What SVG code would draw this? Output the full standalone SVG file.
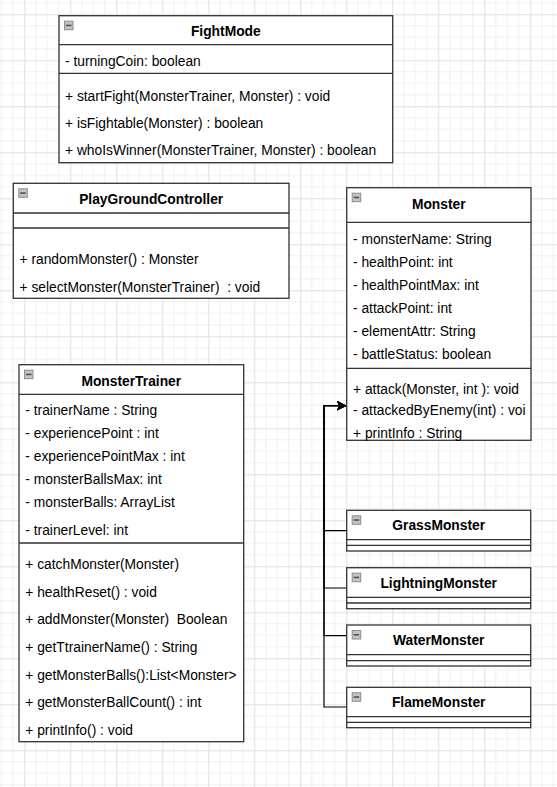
<svg xmlns="http://www.w3.org/2000/svg" width="557" height="787" viewBox="0 0 557 787">
<defs>
<pattern id="grid" patternUnits="userSpaceOnUse" x="24.3" y="14.3" width="46" height="46">
<path d="M11.5,0V46M23,0V46M34.5,0V46M0,11.5H46M0,23H46M0,34.5H46" stroke="#f0f0f0" stroke-width="1" fill="none"/>
<path d="M0.5,0V46M0,0.5H46" stroke="#e0e0e0" stroke-width="1" fill="none"/>
</pattern>
<marker id="arr" markerUnits="userSpaceOnUse" markerWidth="12" markerHeight="12" refX="10" refY="5" orient="auto">
<path d="M0,0 L10,5 L0,10 L2.5,5 Z" fill="#000"/>
</marker>
<g id="icon">
<rect x="0.5" y="0.5" width="8.5" height="8.5" fill="#c4c4c4" stroke="#8c8c8c" stroke-width="1"/>
<path d="M2,4.75H7.5" stroke="#505050" stroke-width="1.6"/>
</g>
</defs>
<style>
.box{fill:#fff;stroke:#333;stroke-width:1.3}
.ln{stroke:#333;stroke-width:1.3;fill:none}
.t{font-family:"Liberation Sans",Arial,sans-serif;font-size:13.8px;fill:#000;white-space:pre}
.h{font-family:"Liberation Sans",Arial,sans-serif;font-size:13.8px;font-weight:bold;fill:#000;text-anchor:middle}
.c{stroke:#000;stroke-width:1.2;fill:none}
</style>
<rect width="557" height="787" fill="#fff"/>
<rect width="557" height="787" fill="url(#grid)"/>

<g id="connectors">
<path class="c" d="M346.7,530.7H324V405.7H346.7" marker-end="url(#arr)"/>
<path class="c" d="M346.7,588H324V405.7H346.7" marker-end="url(#arr)"/>
<path class="c" d="M346.7,635.7H324V405.7H346.7" marker-end="url(#arr)"/>
<path class="c" d="M346.7,707H324V405.7H346.7" marker-end="url(#arr)"/>
</g>

<g id="FightMode">
<rect class="box" x="59" y="15.7" width="333.7" height="147"/>
<path class="ln" d="M59,44.7H392.7M59,73.3H392.7"/>
<use href="#icon" x="64" y="20.7"/>
<text class="h" x="225.8" y="36">FightMode</text>
<text class="t" x="65" y="66">- turningCoin: boolean</text>
<text class="t" x="65" y="100.5">+ startFight(MonsterTrainer, Monster) : void</text>
<text class="t" x="65" y="128">+ isFightable(Monster) : boolean</text>
<text class="t" x="65" y="155">+ whoIsWinner(MonsterTrainer, Monster) : boolean</text>
</g>

<g id="PlayGroundController">
<rect class="box" x="13.3" y="183.3" width="275.7" height="115"/>
<path class="ln" d="M13.3,213H289M13.3,228H289"/>
<use href="#icon" x="18.3" y="188.3"/>
<text class="h" x="151.2" y="204.3">PlayGroundController</text>
<text class="t" x="19.5" y="264">+ randomMonster() : Monster</text>
<text class="t" x="19.5" y="291.5" xml:space="preserve">+ selectMonster(MonsterTrainer)  : void</text>
</g>

<g id="Monster">
<rect class="box" x="346.7" y="187.7" width="184.3" height="252.6"/>
<path class="ln" d="M346.7,222.3H531M346.7,368.3H531"/>
<use href="#icon" x="351.7" y="192.7"/>
<text class="h" x="438.8" y="209">Monster</text>
<text class="t" x="353" y="244">- monsterName: String</text>
<text class="t" x="353" y="267.3">- healthPoint: int</text>
<text class="t" x="353" y="290.3">- healthPointMax: int</text>
<text class="t" x="353" y="313">- attackPoint: int</text>
<text class="t" x="353" y="335.7">- elementAttr: String</text>
<text class="t" x="353" y="359">- battleStatus: boolean</text>
<text class="t" x="353" y="394.3">+ attack(Monster, int ): void</text>
<text class="t" x="353" y="415">- attackedByEnemy(int) : voi</text>
<text class="t" x="353" y="437.7">+ printInfo : String</text>
</g>

<g id="MonsterTrainer">
<rect class="box" x="19" y="364.7" width="224.7" height="377"/>
<path class="ln" d="M19,394.3H243.7M19,543H243.7"/>
<use href="#icon" x="24" y="369.7"/>
<text class="h" x="131.3" y="385.7">MonsterTrainer</text>
<text class="t" x="25.3" y="415.3">- trainerName : String</text>
<text class="t" x="25.3" y="438">- experiencePoint : int</text>
<text class="t" x="25.3" y="461.3">- experiencePointMax : int</text>
<text class="t" x="25.3" y="484">- monsterBallsMax: int</text>
<text class="t" x="25.3" y="507.3">- monsterBalls: ArrayList</text>
<text class="t" x="25.3" y="535.3">- trainerLevel: int</text>
<text class="t" x="25.3" y="569">+ catchMonster(Monster)</text>
<text class="t" x="25.3" y="596.7">+ healthReset() : void</text>
<text class="t" x="25.3" y="624.3" xml:space="preserve">+ addMonster(Monster)  Boolean</text>
<text class="t" x="25.3" y="651.7">+ getTtrainerName() : String</text>
<text class="t" x="25.3" y="680">+ getMonsterBalls():List&lt;Monster&gt;</text>
<text class="t" x="25.3" y="707.3">+ getMonsterBallCount() : int</text>
<text class="t" x="25.3" y="735">+ printInfo() : void</text>
</g>

<g id="GrassMonster">
<rect class="box" x="346.7" y="510.3" width="184" height="40.7"/>
<path class="ln" d="M346.7,539.7H530.7M346.7,545.3H530.7"/>
<use href="#icon" x="351.7" y="515.3"/>
<text class="h" x="438.7" y="530.3">GrassMonster</text>
</g>

<g id="LightningMonster">
<rect class="box" x="346.7" y="567.7" width="184" height="41"/>
<path class="ln" d="M346.7,597.3H530.7M346.7,603H530.7"/>
<use href="#icon" x="351.7" y="572.7"/>
<text class="h" x="438.7" y="587.7">LightningMonster</text>
</g>

<g id="WaterMonster">
<rect class="box" x="346.7" y="625" width="184" height="41"/>
<path class="ln" d="M346.7,654.7H530.7M346.7,660.7H530.7"/>
<use href="#icon" x="351.7" y="630"/>
<text class="h" x="438.7" y="645">WaterMonster</text>
</g>

<g id="FlameMonster">
<rect class="box" x="346.7" y="687.3" width="184" height="40.4"/>
<path class="ln" d="M346.7,716.7H530.7M346.7,722.3H530.7"/>
<use href="#icon" x="351.7" y="692.3"/>
<text class="h" x="438.7" y="707">FlameMonster</text>
</g>
</svg>
